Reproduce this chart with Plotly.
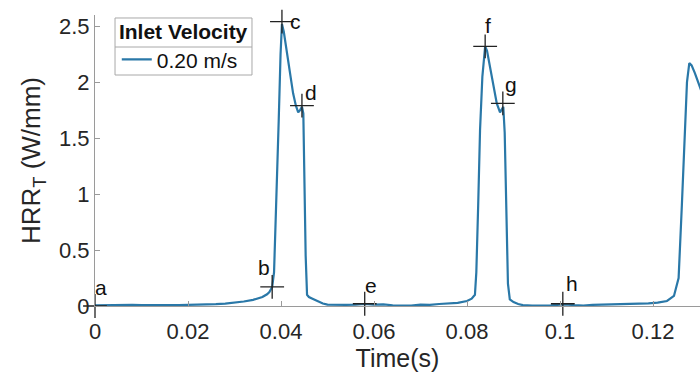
import plotly.graph_objects as go

# ---- data ----
time_s = [0.000, 0.002, 0.004, 0.006, 0.008, 0.010, 0.012, 0.014, 0.016, 0.018,
          0.020, 0.022, 0.024, 0.026, 0.028, 0.030, 0.032, 0.034, 0.035, 0.036,
          0.037, 0.0375, 0.0381, 0.0385, 0.0388, 0.0391, 0.0395, 0.0399, 0.0402, 0.0406,
          0.0412, 0.0419, 0.0426, 0.0432, 0.0437, 0.0441, 0.0445, 0.0448, 0.0450, 0.0453,
          0.0456, 0.0460, 0.0470, 0.0480, 0.0490, 0.0500, 0.0520, 0.0540, 0.0560, 0.0580,
          0.0600, 0.0620, 0.0640, 0.0660, 0.0680, 0.0700, 0.0720, 0.0740, 0.0760, 0.0780,
          0.0800, 0.0810, 0.0817, 0.0820, 0.0824, 0.0828, 0.0833, 0.0839, 0.0843, 0.0849,
          0.0857, 0.0864, 0.0871, 0.0875, 0.0878, 0.0881, 0.0884, 0.0888, 0.0892, 0.0900,
          0.0910, 0.0920, 0.0940, 0.0960, 0.0980, 0.1000, 0.1010, 0.1030, 0.1050, 0.1070,
          0.1090, 0.1110, 0.1130, 0.1150, 0.1170, 0.1190, 0.1210, 0.1230, 0.1245, 0.1255,
          0.1262, 0.1268, 0.1273, 0.1278, 0.1283, 0.1290, 0.1300, 0.1310]
hrr = [0.006, 0.008, 0.010, 0.009, 0.011, 0.008, 0.010, 0.007, 0.009, 0.008,
       0.010, 0.009, 0.013, 0.016, 0.022, 0.030, 0.040, 0.055, 0.065, 0.080,
       0.105, 0.125, 0.170, 0.30, 0.70, 1.20, 1.65, 2.25, 2.52, 2.45,
       2.28, 2.08, 1.90, 1.79, 1.73, 1.75, 1.78, 1.72, 1.20, 0.45,
       0.10, 0.08, 0.06, 0.04, 0.022, 0.012, 0.008, 0.010, 0.012, 0.018,
       0.012, 0.015, 0.006, 0.002, 0.003, 0.012, 0.010, 0.018, 0.020, 0.028,
       0.045, 0.065, 0.10, 0.30, 0.90, 1.57, 2.05, 2.32, 2.28, 2.14,
       1.96, 1.81, 1.73, 1.76, 1.78, 1.55, 0.90, 0.20, 0.06, 0.035,
       0.018, 0.008, 0.003, 0.002, 0.005, 0.012, 0.015, 0.008, 0.004, 0.010,
       0.012, 0.016, 0.014, 0.018, 0.020, 0.024, 0.030, 0.045, 0.09, 0.25,
       0.90, 1.60, 2.00, 2.17, 2.15, 2.08, 1.96, 1.85]

point_labels = ["a", "b", "c", "d", "e", "f", "g", "h"]
point_t = [0.0, 0.0381, 0.0402, 0.0445, 0.0580, 0.0839, 0.0877, 0.1006]
point_v = [0.0, 0.17, 2.54, 1.79, 0.02, 2.32, 1.81, 0.02]
# label offsets in pixels (style)
label_dx = [6, -8, 14, 9, 6, 3, 8, 9]
label_dy = [19, 19, 0, 13, 18, 21, 19, 20]

x_ticks = [0, 0.02, 0.04, 0.06, 0.08, 0.1, 0.12]
x_tick_text = ["0", "0.02", "0.04", "0.06", "0.08", "0.1", "0.12"]
y_ticks = [0, 0.5, 1, 1.5, 2, 2.5]
y_tick_text = ["0", "0.5", "1", "1.5", "2", "2.5"]

FONT = "Liberation Sans, Arial, sans-serif"
LINE_COLOR = "#2a78a8"
AX_COLOR = "#9a9a9a"
TXT = "#262626"
BOX = "#a8a8a8"

fig = go.Figure()
fig.add_trace(go.Scatter(x=time_s, y=hrr, mode="lines", name="0.20 m/s",
                         line=dict(color=LINE_COLOR, width=2.2)))
fig.add_trace(go.Scatter(x=point_t, y=point_v, mode="markers", showlegend=False,
                         cliponaxis=False,
                         marker=dict(symbol="cross-thin", size=17,
                                     line=dict(color="#222222", width=1.3))))

for lab, tx, vy, dx, dy in zip(point_labels, point_t, point_v, label_dx, label_dy):
    fig.add_annotation(x=tx, y=vy, text=lab, showarrow=False, xshift=dx, yshift=dy,
                       font=dict(family=FONT, size=21, color="#111111"))

# legend frame and separator under the legend title
fig.add_shape(type="rect", xref="paper", yref="paper",
              x0=0.0331, x1=0.2595, y0=0.7938, y1=0.9897,
              line=dict(color=BOX, width=1), fillcolor="white", layer="above")
fig.add_shape(type="line", xref="paper", yref="paper",
              x0=0.0331, x1=0.2595, y0=0.890, y1=0.890,
              line=dict(color=BOX, width=1), layer="above")

fig.update_layout(
    width=700, height=376,
    margin=dict(l=95, r=0, t=15, b=70),
    paper_bgcolor="white", plot_bgcolor="white",
    font=dict(family=FONT, color=TXT),
    showlegend=True,
    legend=dict(
        x=0.036, y=1.0103, xanchor="left", yanchor="top",
        bgcolor="rgba(255,255,255,0)", borderwidth=0,
        title=dict(text="<b>Inlet Velocity</b>", side="top center",
                   font=dict(family=FONT, size=21, color="#111111")),
        font=dict(family=FONT, size=21, color="#111111"),
        itemwidth=30, tracegroupgap=0,
    ),
    xaxis=dict(
        range=[0, 0.1301], tickmode="array", tickvals=x_ticks, ticktext=x_tick_text,
        showgrid=False, zeroline=False, showline=True, linecolor=AX_COLOR, linewidth=1,
        ticks="inside", ticklen=5, tickcolor=AX_COLOR, ticklabelstandoff=6,
        tickfont=dict(family=FONT, size=22, color=TXT),
        title=dict(text="Time(s)", font=dict(family=FONT, size=25, color=TXT), standoff=4),
    ),
    yaxis=dict(
        range=[0, 2.6], tickmode="array", tickvals=y_ticks, ticktext=y_tick_text,
        showgrid=False, zeroline=False, showline=True, linecolor=AX_COLOR, linewidth=1,
        ticks="inside", ticklen=5, tickcolor=AX_COLOR,
        tickfont=dict(family=FONT, size=22, color=TXT),
        title=dict(text="HRR<sub>T</sub> (W/mm)", font=dict(family=FONT, size=26, color=TXT),
                   standoff=10),
    ),
)

fig.write_html("out.html")
